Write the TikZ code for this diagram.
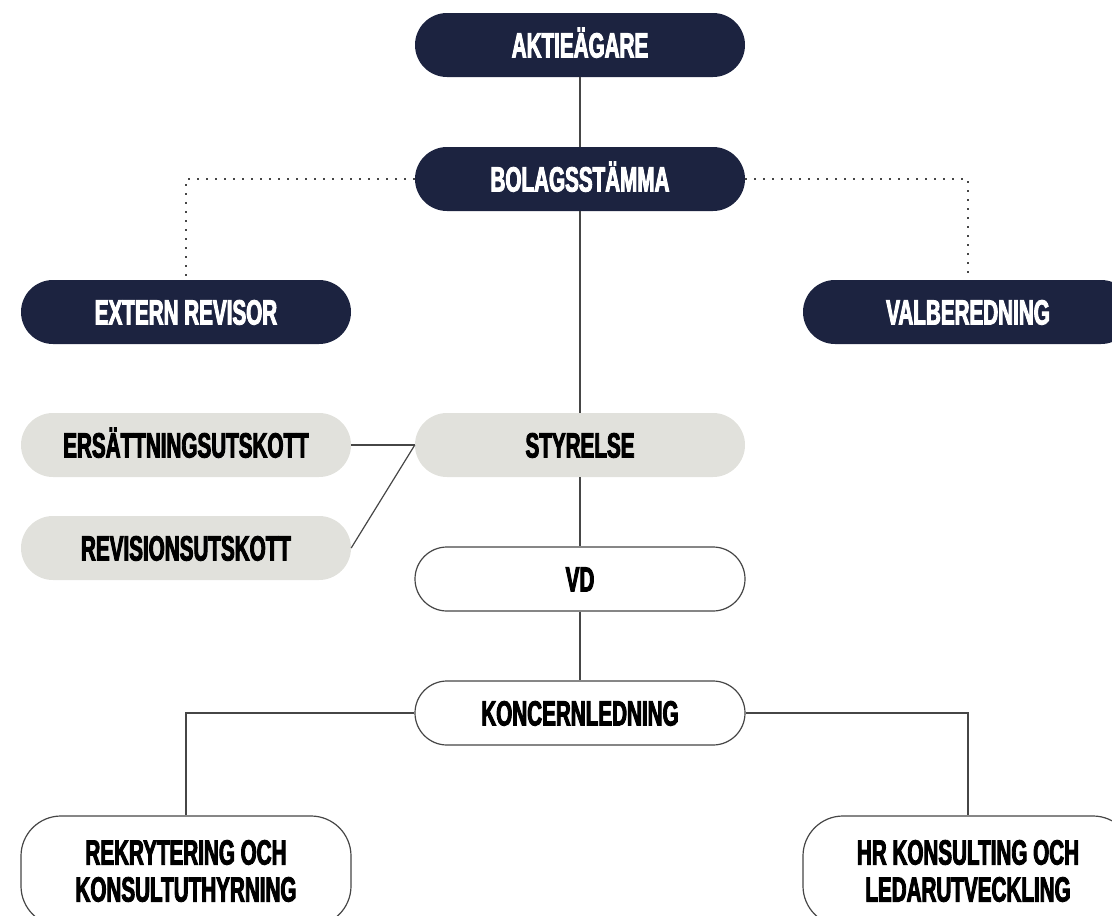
\documentclass[tikz,border=0pt]{standalone}
\usepackage{fontspec}
\setmainfont{Liberation Sans}[FakeStretch=0.59,FakeBold=2.6]
\definecolor{navy}{RGB}{28,35,64}
\definecolor{pale}{RGB}{225,225,220}
\definecolor{linegray}{RGB}{70,70,70}
\begin{document}
\begin{tikzpicture}[x=1pt,y=-1pt,
box/.style={rectangle,rounded corners=32pt,minimum width=330pt,minimum height=64pt,inner sep=0,align=center,font=\fontsize{35}{37}\selectfont\bfseries},
single/.style={box,text height=25pt,text depth=0pt},
dark/.style={single,fill=navy,text=white},
light/.style={single,fill=pale,text=black},
open/.style={single,draw=linegray,fill=white,line width=1.2pt},
unit/.style={box,draw=linegray,fill=white,line width=1.2pt,rounded corners=40pt,minimum height=110pt},
wire/.style={draw=linegray,line width=1.2pt},
dots/.style={draw=linegray,line width=1.6pt,dash pattern=on 1.6pt off 7.4pt}]
\clip(0,0)rectangle(1112,916);
\node[dark](ag)at(580,45){AKTIEÄGARE};
\node[dark](bs)at(580,179){BOLAGSSTÄMMA};
\node[dark](er)at(186,312){EXTERN REVISOR};
\node[dark](vb)at(968,312){VALBEREDNING};
\node[light](eu)at(186,445){ERSÄTTNINGSUTSKOTT};
\node[light](ru)at(186,548){REVISIONSUTSKOTT};
\node[light](st)at(580,445){STYRELSE};
\node[open](vd)at(580,579){VD};
\node[open](kl)at(580,713){KONCERNLEDNING};
\node[unit](rk)at(186,871){REKRYTERING OCH\\KONSULTUTHYRNING};
\node[unit](hr)at(968,871){HR KONSULTING OCH\\LEDARUTVECKLING};
% vertical spine
\draw[wire](ag)--(bs);\draw[wire](bs)--(st);\draw[wire](st)--(vd);\draw[wire](vd)--(kl);
% committees
\draw[wire](eu.east)--(st.west);\draw[wire](ru.east)--(st.west);
% side branches
\draw[dots](bs.west)-|(er.north);\draw[dots](bs.east)-|(vb.north);
\draw[wire](kl.west)-|(rk.north);\draw[wire](kl.east)-|(hr.north);
\end{tikzpicture}
\end{document}
